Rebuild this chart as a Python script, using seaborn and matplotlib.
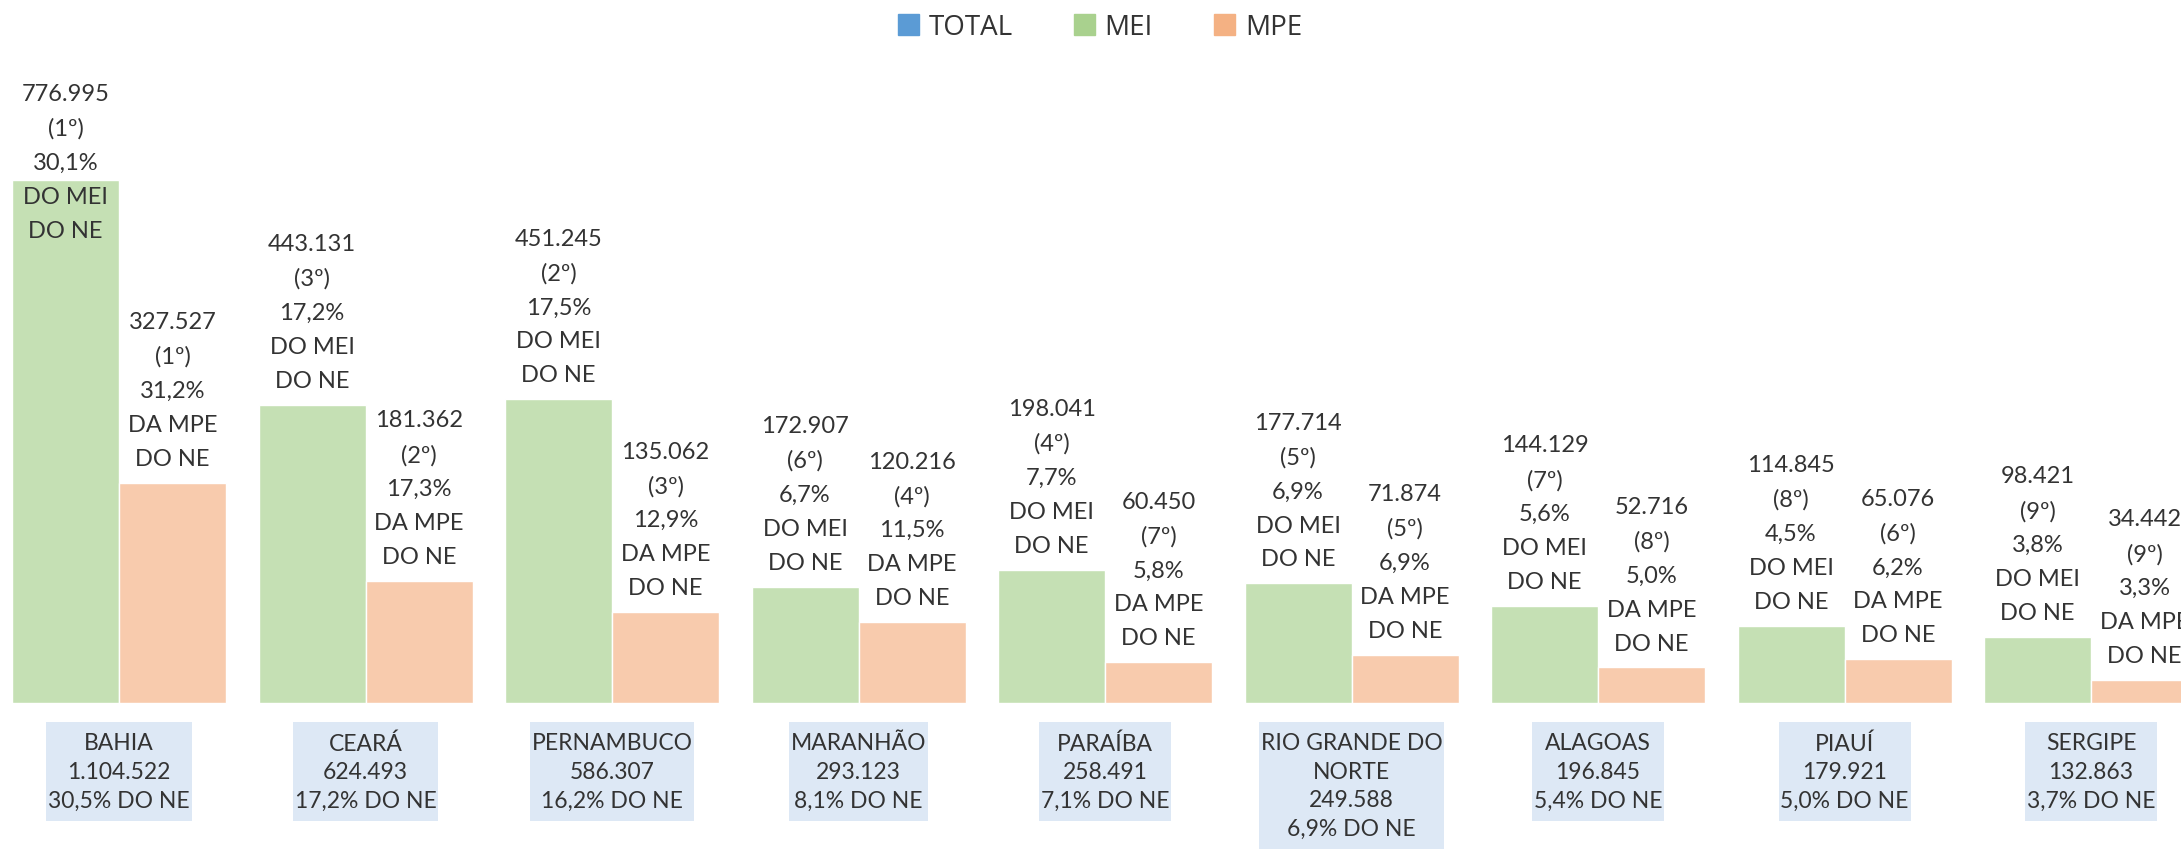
import seaborn as sns
import matplotlib.pyplot as plt
import matplotlib.patches as mpatches
from matplotlib.path import Path
import pandas as pd

# chart data
states = ['BAHIA', 'CEARÁ', 'PERNAMBUCO', 'MARANHÃO', 'PARAÍBA',
          'RIO GRANDE DO\nNORTE', 'ALAGOAS', 'PIAUÍ', 'SERGIPE']
total = [1104522, 624493, 586307, 293123, 258491, 249588, 196845, 179921, 132863]
total_pct = [30.5, 17.2, 16.2, 8.1, 7.1, 6.9, 5.4, 5.0, 3.7]
mei = [776995, 443131, 451245, 172907, 198041, 177714, 144129, 114845, 98421]
mei_rank = [1, 3, 2, 6, 4, 5, 7, 8, 9]
mei_pct = [30.1, 17.2, 17.5, 6.7, 7.7, 6.9, 5.6, 4.5, 3.8]
mpe = [327527, 181362, 135062, 120216, 60450, 71874, 52716, 65076, 34442]
mpe_rank = [1, 2, 3, 4, 7, 5, 8, 6, 9]
mpe_pct = [31.2, 17.3, 12.9, 11.5, 5.8, 6.9, 5.0, 6.2, 3.3]


def num(v):
    return f'{v:,}'.replace(',', '.')


def pct(p):
    return f'{p:.1f}'.replace('.', ',') + '%'


# box with small side padding and larger top/bottom padding
def tight_box(x0, y0, width, height, mutation_size):
    px = 0.08 * mutation_size
    py = 0.45 * mutation_size
    x0, y0 = x0 - px, y0 - py
    x1, y1 = x0 + width + 2 * px, y0 + height + 2 * py
    return Path([(x0, y0), (x1, y0), (x1, y1), (x0, y1), (x0, y0)], closed=True)


df = pd.DataFrame({'UF': states, 'MEI': mei, 'MPE': mpe})
long = df.melt(id_vars='UF', var_name='Tipo', value_name='Qtd')

sns.set_style('white')
plt.rcParams['font.family'] = ['Lato', 'DejaVu Sans']
text_color = '#333333'

fig = plt.figure(figsize=(21.81, 8.53), dpi=100)
ax = fig.add_axes([0, 0.1747, 1, 0.8253])

sns.barplot(data=long, x='UF', y='Qtd', hue='Tipo', hue_order=['MEI', 'MPE'],
            palette=['#C5E0B4', '#F8CBAD'], width=0.868, saturation=1,
            edgecolor='white', linewidth=1, legend=False, ax=ax)

ax.set_xlim(-0.483, 8.365)
ax.set_ylim(0, 1045900)
ax.axis('off')

# value labels above the bars
labels = []
for cont, vals, ranks, pcts, kind in [
        (ax.containers[0], mei, mei_rank, mei_pct, 'DO MEI'),
        (ax.containers[1], mpe, mpe_rank, mpe_pct, 'DA MPE')]:
    for bar, v, r, p in zip(cont, vals, ranks, pcts):
        txt = f'{num(v)}\n({r}º)\n{pct(p)}\n{kind}\nDO NE'
        t = ax.annotate(txt, (bar.get_x() + bar.get_width() / 2, bar.get_height()),
                        xytext=(0, 10), textcoords='offset points',
                        ha='center', va='bottom', fontsize=17, color=text_color,
                        linespacing=1.76)
        labels.append(t)

# keep labels inside the figure (pushed into the bar like the original)
fig.canvas.draw()
fig_h = fig.bbox.height
for t in labels:
    bb = t.get_window_extent()
    limit = fig_h - 84
    if bb.y1 > limit:
        dy = (bb.y1 - limit) * 72 / fig.dpi
        x0, y0 = t.xyann
        t.xyann = (x0, y0 - dy)

# state boxes under the groups
for i, (s, tv, tp) in enumerate(zip(states, total, total_pct)):
    ax.annotate(f'{s}\n{num(tv)}\n{pct(tp)} DO NE', (i, 0),
                xytext=(0, -21), textcoords='offset points',
                ha='center', va='top', fontsize=16.5, color=text_color,
                linespacing=1.45,
                bbox=dict(boxstyle=tight_box, fc='#DDE8F5', ec='none'))

handles = [mpatches.Patch(color='#5B9BD5', label='TOTAL'),
           mpatches.Patch(color='#A9D18E', label='MEI'),
           mpatches.Patch(color='#F4B183', label='MPE')]
fig.legend(handles=handles, loc='center', bbox_to_anchor=(1100 / 2181, 1 - 28 / 853),
           ncol=3, frameon=False, handlelength=0.76, handleheight=0.76,
           handletextpad=0.35, columnspacing=2.2, borderpad=0,
           prop={'family': ['Open Sans', 'DejaVu Sans'], 'size': 20},
           labelcolor=text_color)

plt.savefig('out.png', dpi=100)
